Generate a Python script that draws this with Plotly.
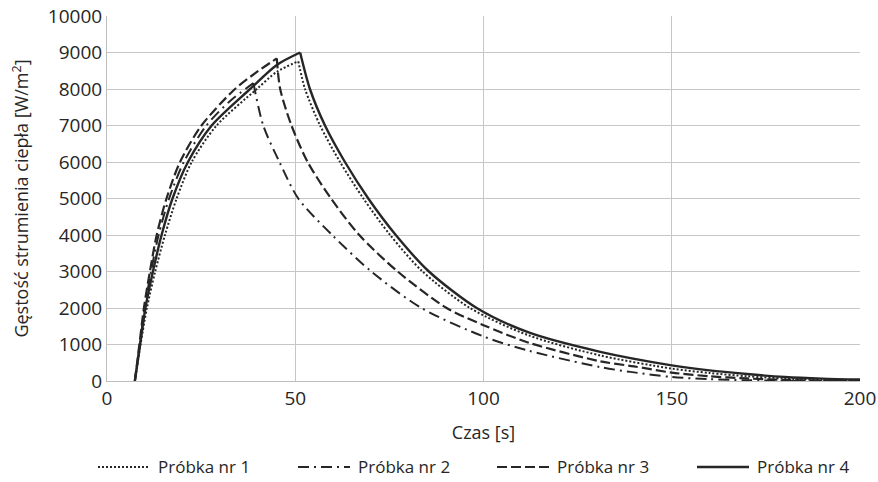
import plotly.graph_objects as go

# Heat flux density of four samples: heating phase (rise) and cooling phase (decay)
# time [s], heat flux density [W/m^2]
t1_rise = [7.4, 8.9, 10.6, 12.8, 15.4, 18.5, 22.5, 29.1, 39.8, 45.1, 50.8]
q1_rise = [0, 1000, 2000, 3000, 4000, 5000, 6000, 7000, 8000, 8470, 8760]
t1_fall = [50.8, 52.6, 56.6, 61.9, 68.1, 75.2, 83.8, 96.4, 112, 131, 150, 160, 170, 180, 190, 200]
q1_fall = [8760, 8000, 7000, 6000, 5000, 4000, 3000, 2000, 1250, 700, 340, 220, 130, 70, 30, 15]

t2_rise = [7.4, 8.7, 10.0, 11.7, 13.7, 16.5, 20.4, 26.4, 33, 38.9]
q2_rise = [0, 1000, 2000, 3000, 4000, 5000, 6000, 7000, 7700, 8160]
t2_fall = [38.9, 41.5, 45.8, 50.8, 59.8, 70.2, 83.5, 100, 112, 131, 139, 150, 160, 170, 180, 190, 200]
q2_fall = [8160, 7000, 6000, 5000, 4000, 3000, 2000, 1220, 830, 380, 250, 110, 50, 20, 5, 0, 0]

t3_rise = [7.4, 8.6, 9.8, 11.4, 13.2, 15.8, 19.4, 25.1, 34, 40, 45.1]
q3_rise = [0, 1000, 2000, 3000, 4000, 5000, 6000, 7000, 8000, 8480, 8840]
t3_fall = [45.1, 46, 49, 53.3, 59.5, 67, 77.2, 90.2, 100, 112, 131, 140, 150, 160, 170, 180, 190, 200]
q3_fall = [8840, 8000, 7000, 6000, 5000, 4000, 3000, 2000, 1530, 1050, 540, 400, 230, 130, 70, 30, 10, 5]

t4_rise = [7.4, 8.8, 10.2, 12.2, 14.5, 17.4, 21.5, 27.8, 38, 45.1, 51.3]
q4_rise = [0, 1000, 2000, 3000, 4000, 5000, 6000, 7000, 8000, 8660, 9000]
t4_fall = [51.3, 53.9, 57.9, 63.2, 69.4, 76.7, 85.5, 98.2, 112, 131, 150, 160, 170, 180, 190, 200]
q4_fall = [9000, 8000, 7000, 6000, 5000, 4000, 3000, 2000, 1330, 800, 430, 290, 190, 110, 65, 40]

names = ["Próbka nr 1", "Próbka nr 2", "Próbka nr 3", "Próbka nr 4"]
dashes = ["2px,2px", "11px,5px,2px,5px", "10px,4px", "solid"]
widths = [2, 2, 2.2, 2.4]
series = [
    ((t1_rise, q1_rise), (t1_fall, q1_fall)),
    ((t2_rise, q2_rise), (t2_fall, q2_fall)),
    ((t3_rise, q3_rise), (t3_fall, q3_fall)),
    ((t4_rise, q4_rise), (t4_fall, q4_fall)),
]

x_ticks = [0, 50, 100, 150, 200]
y_ticks = list(range(0, 10001, 1000))

FONT = "Open Sans"
INK = "#262626"
GRID = "#c6c6c6"

fig = go.Figure()
for parts, name, dash, w in zip(series, names, dashes, widths):
    for t, q in parts:
        fig.add_trace(go.Scatter(x=t, y=q, mode="lines", name=name,
                                 line=dict(color=INK, width=w, dash=dash,
                                           shape="spline", smoothing=0.8),
                                 showlegend=False, hoverinfo="x+y+name"))

W, H = 878, 482
ml, mr, mt, mb = 107, 18, 16, 101
pw, ph = W - ml - mr, H - mt - mb

# Legend below the plot: line sample followed by its label
leg_x0 = [98, 298, 497, 697]
leg_y = 467
for x0, name, dash, w in zip(leg_x0, names, dashes, widths):
    fy = (H - mb - leg_y) / ph
    fig.add_shape(type="line", xref="paper", yref="paper",
                  x0=(x0 - ml) / pw, x1=(x0 + 52 - ml) / pw, y0=fy, y1=fy,
                  line=dict(color=INK, width=w, dash=dash))
    fig.add_annotation(xref="paper", yref="paper", x=(x0 + 58 - ml) / pw, y=fy,
                       text=name, showarrow=False, xanchor="left", yanchor="middle",
                       font=dict(family=FONT, size=17, color=INK))

fig.update_layout(
    width=W, height=H,
    margin=dict(l=ml, r=mr, t=mt, b=mb, autoexpand=False),
    paper_bgcolor="white", plot_bgcolor="white",
    font=dict(family=FONT, size=17, color=INK),
    xaxis=dict(range=[0, 200], tickvals=x_ticks, ticktext=[str(v) for v in x_ticks],
               showgrid=True, gridcolor=GRID, gridwidth=1, zeroline=False,
               showline=True, linecolor="#bdbdbd", ticks="", automargin=False,
               title=dict(text="Czas [s]", standoff=16, font=dict(size=18)),
               tickfont=dict(size=19)),
    yaxis=dict(range=[0, 10000], tickvals=y_ticks, ticktext=[str(v) for v in y_ticks],
               showgrid=True, gridcolor=GRID, gridwidth=1, zeroline=False,
               showline=True, linecolor="#bdbdbd", ticks="", automargin=False,
               title=dict(text="Gęstość strumienia ciepła [W/m<sup>2</sup>]",
                          standoff=14, font=dict(size=18)),
               tickfont=dict(size=19)),
)

fig.write_html("out.html")
